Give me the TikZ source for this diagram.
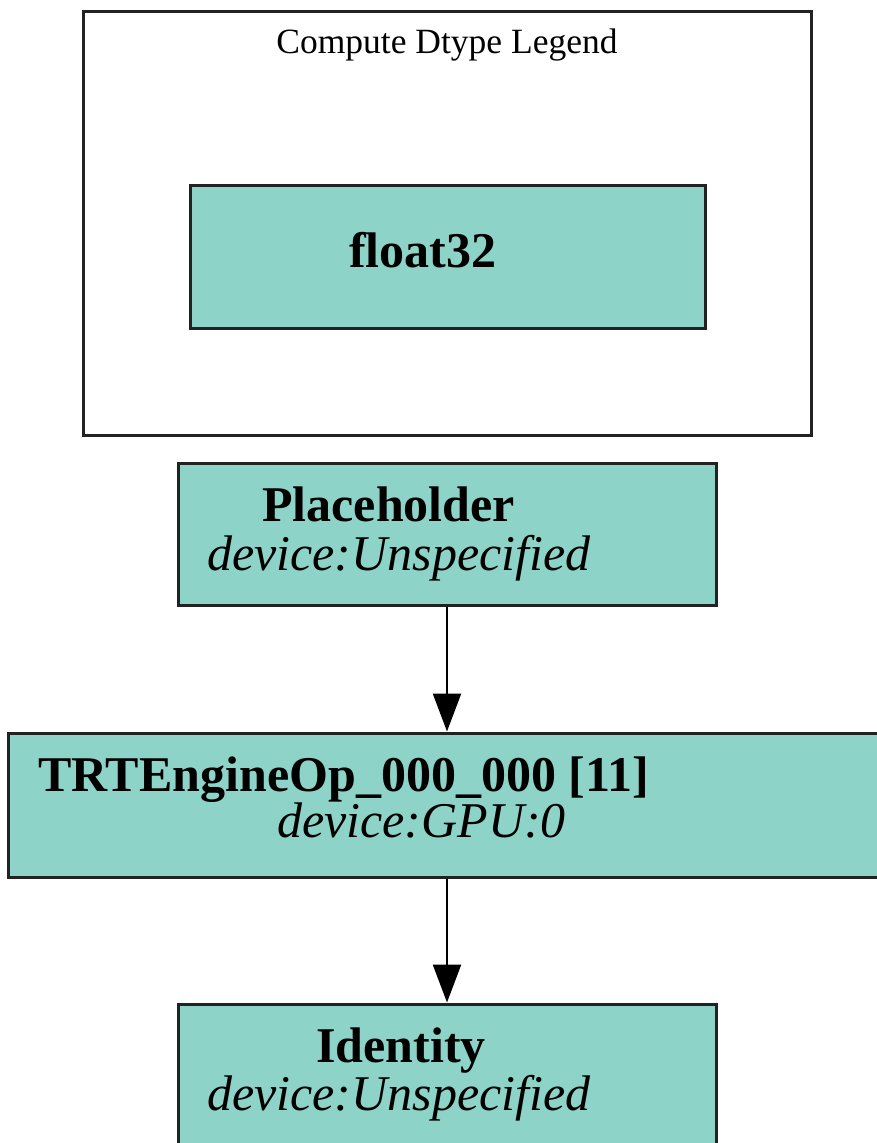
\documentclass[tikz,border=0pt]{standalone}
\usepackage{fontspec}
\setmainfont{Liberation Serif}
\usetikzlibrary{arrows.meta}
\definecolor{opfill}{HTML}{8DD3C7}
\definecolor{opline}{HTML}{222222}

\begin{document}
\begin{tikzpicture}[
			x=1pt, y=-1pt,
			op/.style={rectangle, draw=opline, fill=opfill, line width=3pt, inner sep=0pt},
			legendbox/.style={rectangle, draw=opline, line width=3pt, inner sep=0pt},
			txt/.style={anchor=base west, inner sep=0pt, font=\fontsize{50}{60}\selectfont},
			edge/.style={line width=2.5pt, -{Triangle[width=28pt,length=38pt]}}
			]
			\useasboundingbox (0,0) rectangle (877,1143);
			
			% Legend
			\node[legendbox, minimum width=728pt, minimum height=424pt] (legend) at (447,223) {};
			\node[anchor=base, inner sep=0pt, font=\fontsize{35.5}{40}\selectfont] (legendtitle) at (447,53) {Compute Dtype Legend};
			\node[op, minimum width=515pt, minimum height=143pt] (f32) at (447.5,256.5) {};
			\node[txt] (f32txt) at (349,267) {\textbf{float32}};
			
			% Ops
			\node[op, minimum width=538pt, minimum height=142pt] (ph) at (447,534) {};
			\node[txt] (phname) at (262,521) {\textbf{Placeholder}};
			\node[txt] (phdev) at (207,570) {\textit{device:Unspecified}};
			
			\node[op, minimum width=878pt, minimum height=144pt] (trt) at (447,805) {};
			\node[txt] (trtname) at (38,791) {\textbf{TRTEngineOp\_000\_000 [11]}};
			\node[txt] (trtdev) at (277,837) {\textit{device:GPU:0}};
			
			\node[op, minimum width=538pt, minimum height=142pt] (id) at (447,1075) {};
			\node[txt] (idname) at (316,1062) {\textbf{Identity}};
			\node[txt] (iddev) at (207,1110) {\textit{device:Unspecified}};
			
			% Edges
			\draw[edge] (ph) -- (trt);
			\draw[edge] (trt) -- (id);
			
		\end{tikzpicture}
\end{document}
